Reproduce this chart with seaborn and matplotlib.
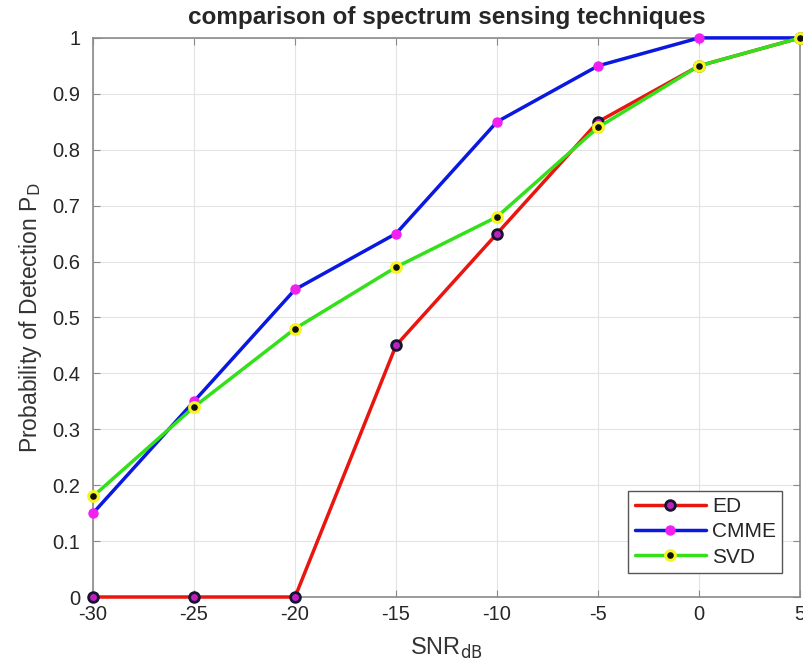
import numpy as np
import pandas as pd
import matplotlib.pyplot as plt
import seaborn as sns

snr = [-30, -25, -20, -15, -10, -5, 0, 5]
ed = [0, 0, 0, 0.45, 0.65, 0.85, 0.95, 1.0]
cmme = [0.15, 0.35, 0.55, 0.65, 0.85, 0.95, 1.0, 1.0]
svd = [0.18, 0.34, 0.48, 0.59, 0.68, 0.84, 0.95, 1.0]

df = pd.DataFrame({"SNR": snr, "ED": ed, "CMME": cmme, "SVD": svd})

sns.set_style("whitegrid")
plt.rcParams["font.family"] = ["Liberation Sans", "DejaVu Sans"]

fig = plt.figure(figsize=(8.04, 6.72), dpi=100)
ax = fig.add_axes([0.1157, 0.1116, 0.8794, 0.832])

styles = {
    "ED": dict(color="#e8160f", mfc="#c020c0", mec="#151530", ms=7, mew=2),
    "CMME": dict(color="#0a18e0", mfc="#f020f0", mec="#f020f0", ms=6.5, mew=1),
    "SVD": dict(color="#33e01a", mfc="#101010", mec="#f5f520", ms=7, mew=2.2),
}
for name, st in styles.items():
    sns.lineplot(data=df, x="SNR", y=name, ax=ax, label=name, lw=2.5,
                 color=st["color"], marker="o", markerfacecolor=st["mfc"],
                 markeredgecolor=st["mec"], markersize=st["ms"],
                 markeredgewidth=st["mew"], clip_on=False, zorder=3)

ax.set_xlim(-30, 5)
ax.set_ylim(0, 1)
ax.set_xticks(snr)
ax.set_xticklabels([str(v) for v in snr])
yt = np.round(np.arange(0, 1.01, 0.1), 1)
ax.set_yticks(yt)
ax.set_yticklabels(["0"] + [f"{v:g}" for v in yt[1:-1]] + ["1"])
ax.tick_params(direction="in", labelsize=14.5, colors="#8a8a8a", labelcolor="#262626",
               length=5, left=True, bottom=True, top=True, right=True)
ax.tick_params(axis="y", pad=9)
ax.tick_params(axis="x", pad=6)
ax.grid(True, color="#e3e3e3", lw=0.8)
for s in ax.spines.values():
    s.set_color("#8a8a8a")
    s.set_linewidth(1.2)

ax.set_xlabel("SNR$_{\\mathrm{dB}}$", fontsize=17, color="#333333", labelpad=8)
ax.set_ylabel("Probability of Detection P$_{\\mathrm{D}}$", fontsize=16.5,
              color="#333333", labelpad=6)
ax.set_title("comparison of spectrum sensing techniques", fontsize=17.5,
             fontweight="bold", pad=10)

leg = ax.legend(loc="lower right", fontsize=15, frameon=True, fancybox=False,
                edgecolor="#555555", framealpha=1, borderpad=0.3,
                labelspacing=0.3, handlelength=3.4, handletextpad=0.3,
                borderaxespad=0, bbox_to_anchor=(0.9745, 0.043))
leg.get_frame().set_linewidth(1.0)

fig.savefig("out.png", dpi=100)
